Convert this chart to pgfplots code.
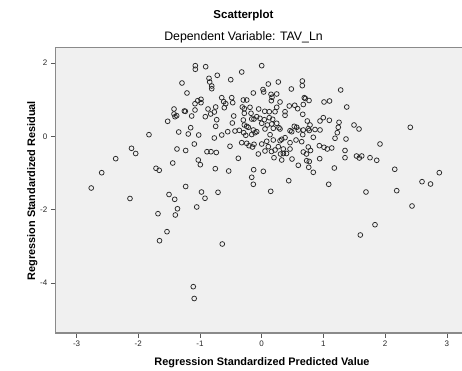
\documentclass[border=0pt]{standalone}
\usepackage{pgfplots}
\pgfplotsset{compat=1.18}
\usepackage{fontspec}
\setmainfont{Liberation Sans}
\definecolor{plotbg}{HTML}{F0F0F0}
\definecolor{frame}{HTML}{8A8A8A}
\definecolor{mk}{HTML}{2A2A2A}
\pgfplotstableread{
x y
-1.076 1.924
-1.076 1.826
-0.908 1.896
-0.324 1.752
-0.720 1.662
-0.854 1.580
-0.843 1.480
-0.502 1.542
-1.292 1.452
-0.810 1.371
-0.810 1.297
-1.211 1.180
-0.136 1.180
-0.648 1.052
-0.486 1.052
-0.984 1.008
-1.037 0.970
-0.984 0.916
-1.081 0.888
-0.616 0.943
-0.583 0.888
-0.470 0.916
-0.298 0.989
-0.243 0.989
-0.746 0.798
-0.870 0.744
-0.314 0.798
-0.282 0.752
-0.190 0.790
-0.606 0.779
-1.421 0.744
-1.081 0.717
-1.254 0.689
-1.238 0.681
-0.768 0.662
-0.827 0.608
-1.421 0.608
-1.378 0.561
-1.405 0.534
-1.135 0.553
-0.914 0.534
-0.454 0.553
-0.282 0.627
-0.162 0.471
-0.729 0.452
-1.524 0.409
-0.298 0.444
-0.476 0.362
-0.282 0.308
-0.243 0.272
-0.217 0.245
-1.151 0.234
-0.746 0.272
-1.345 0.117
-1.190 0.063
-1.021 0.035
-1.827 0.044
-0.551 0.125
-0.648 0.035
-0.363 0.163
-0.433 0.144
-0.292 0.098
-0.259 0.027
-0.162 0.049
-0.768 -0.046
-0.324 -0.174
-0.243 -0.191
-0.206 -0.256
-0.149 -0.292
-1.092 -0.210
-0.514 -0.272
-2.110 -0.327
-2.042 -0.469
-1.373 -0.346
-1.232 -0.387
-0.887 -0.420
-0.822 -0.420
-0.736 -0.441
0.000 1.924
0.269 1.480
0.658 1.507
0.658 1.379
0.107 1.425
0.021 1.275
0.032 1.207
0.480 1.289
1.280 1.262
0.151 1.144
0.243 1.153
0.167 1.063
0.156 0.970
0.690 1.052
0.707 1.030
0.767 0.975
0.297 0.935
1.010 0.935
1.099 0.962
0.447 0.826
0.535 0.845
0.674 0.866
0.583 0.752
1.378 0.798
0.243 0.790
0.216 0.670
-0.049 0.744
0.049 0.681
0.123 0.670
0.378 0.670
0.378 0.572
0.665 0.599
-0.173 0.627
-0.081 0.534
-0.125 0.471
-0.028 0.490
0.042 0.452
0.123 0.507
0.178 0.463
0.998 0.507
0.945 0.417
1.096 0.436
0.739 0.417
1.253 0.381
0.000 0.354
0.091 0.308
0.162 0.335
0.243 0.354
1.496 0.308
1.577 0.199
2.408 0.245
0.280 0.234
0.297 0.199
0.783 0.308
0.755 0.207
0.771 0.158
0.528 0.272
0.567 0.245
0.593 0.172
0.459 0.153
0.486 0.125
0.674 0.172
0.864 0.185
0.945 0.172
1.241 0.245
1.225 0.098
0.053 0.199
0.188 0.218
-0.136 0.172
-0.109 0.098
-0.081 0.125
0.665 0.044
0.836 -0.027
1.188 -0.054
1.366 -0.074
0.378 -0.038
0.324 -0.082
0.297 -0.120
0.135 0.044
0.556 -0.101
0.648 -0.147
0.459 -0.174
0.081 -0.136
0.188 -0.101
-0.125 -0.218
0.000 -0.210
1.917 -0.210
0.934 -0.256
1.010 -0.300
1.063 -0.346
1.135 -0.319
0.269 -0.283
0.216 -0.373
0.350 -0.346
0.755 -0.292
0.791 -0.387
0.459 -0.346
0.107 -0.283
0.053 -0.401
0.159 -0.414
1.350 -0.387
-0.055 -0.482
0.305 -0.482
0.350 -0.469
0.402 -0.469
1.536 -0.537
1.621 -0.537
0.674 -0.428
0.726 -0.482
0.199 -0.583
0.324 -0.646
0.491 -0.619
0.593 -0.790
0.729 -0.665
0.771 -0.687
0.762 -0.845
0.836 -0.981
0.940 -0.610
1.177 -0.864
1.350 -0.583
1.582 -0.591
1.755 -0.583
1.864 -0.654
-0.130 -0.910
-0.162 -1.117
-0.136 -1.308
0.026 -0.954
0.438 -1.210
0.146 -1.499
1.086 -1.308
1.690 -1.518
2.156 -0.899
2.188 -1.482
2.598 -1.237
2.736 -1.300
2.878 -0.992
2.436 -1.899
1.836 -2.409
1.598 -2.689
-2.366 -0.610
-2.593 -0.992
-2.763 -1.409
-2.135 -1.695
-1.713 -0.872
-1.661 -0.926
-1.442 -0.728
-1.028 -0.646
-0.995 -0.774
-0.752 -0.883
-0.379 -0.599
-0.535 -0.946
-1.232 -1.368
-1.502 -1.586
-1.410 -1.717
-0.976 -1.518
-0.919 -1.689
-0.708 -1.526
-1.365 -1.975
-1.400 -2.144
-1.053 -1.926
-1.681 -2.109
-1.535 -2.599
-1.656 -2.845
-0.639 -2.935
-1.109 -4.098
-1.094 -4.420
}\resid
\begin{document}
\begin{tikzpicture}[x=1pt,y=1pt]
\path[use as bounding box] (0,0) rectangle (462,371);
\begin{axis}[
  at={(55.3pt,37.7pt)}, anchor=south west,
  scale only axis, width=406.7pt, height=285.3pt,
  xmin=-3.345, xmax=3.246, ymin=-5.368, ymax=2.406,
  axis background/.style={fill=plotbg},
  axis line style={draw=none},
  xtick={-3,-2,-1,0,1,2,3}, ytick={-4,-2,0,2},
  tick align=outside, tick pos=left,
  major tick length=4.5pt,
  tick style={color=black!65, line width=0.6pt},
  /pgf/number format/assume math mode=true,
  ticklabel style={font=\fontsize{8}{9}\selectfont, text=black!85},
  clip=false,
]
\addplot[only marks, mark=o, mark size=2.4pt, mark options={draw=mk, line width=0.75pt}] table[x=x,y=y] {\resid};
\draw[frame, line width=1pt] (rel axis cs:0,0) -- (rel axis cs:0,1) -- (rel axis cs:1,1);
\draw[frame, line width=1.6pt] (rel axis cs:0,0) -- (rel axis cs:1,0);
\end{axis}
\node[anchor=base, font=\bfseries\fontsize{11.5}{13}\selectfont] at (243.5,352.7) {Scatterplot};
\node[anchor=base, font=\fontsize{12.3}{14}\selectfont] at (243.5,330.3) {Dependent Variable: TAV\_Ln};
\node[anchor=base, font=\bfseries\fontsize{10.9}{13}\selectfont] at (262,5.3) {Regression Standardized Predicted Value};
\node[anchor=base, rotate=90, font=\bfseries\fontsize{10.9}{13}\selectfont] at (35,180.3) {Regression Standardized Residual};
\end{tikzpicture}
\end{document}
